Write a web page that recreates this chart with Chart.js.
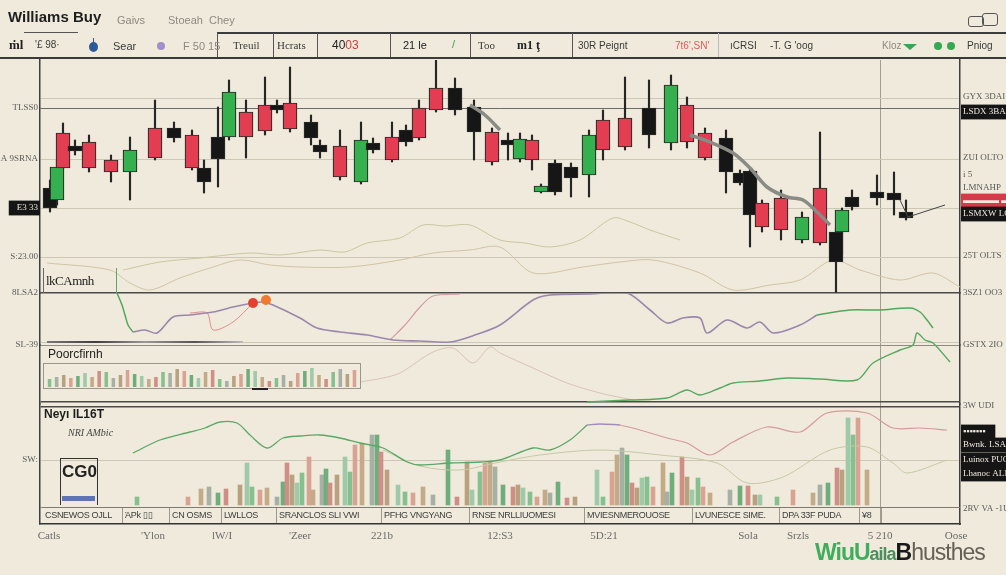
<!DOCTYPE html>
<html>
<head>
<meta charset="utf-8">
<script src="https://cdn.jsdelivr.net/npm/chart.js@4.4.1/dist/chart.umd.min.js"></script>
<style>
  body { margin: 0; width: 1006px; height: 575px; overflow: hidden; position: relative; background: #efeadb; font-family: "Liberation Sans", Arial, sans-serif; }
  #main { position: absolute; left: 0; top: 0; }
  .t { position: absolute; white-space: nowrap; color: #3a3a3a; font-size: 11px; }
  .g { color: #8d8980; }
  .ln { position: absolute; }
  .vs { position: absolute; top: 33px; width: 1px; height: 24px; background: #555; }
  #strip { position: absolute; left: 43px; top: 507px; width: 917px; height: 15px; border-top: 1px solid #7d7a70; display: flex; }
  #strip div { font: 9px "Liberation Sans"; color: #3c3c3c; line-height: 15px; padding-left: 2px; border-right: 1px solid #9b978b; overflow: hidden; letter-spacing: -0.3px; box-sizing: border-box; }
  #miniBox { position: absolute; left: 43px; top: 363px; width: 316px; height: 24px; border: 1px solid #9a968a; }
</style>
</head>
<body>
<canvas id="main" width="1006" height="575"></canvas>

<!-- header -->
<div class="t" style="left:8px;top:8px;font:bold 15px 'Liberation Sans';color:#1d1d1d;">Williams Buy</div>
<div class="ln" style="left:24px;top:32px;width:54px;height:1px;background:#555"></div>
<div class="t g" style="left:117px;top:14px">Gaivs</div>
<div class="t g" style="left:168px;top:14px">Stoeah&nbsp; Chey</div>
<div class="ln" style="left:217px;top:32px;width:789px;height:2px;background:#3c3c3c"></div>
<div class="ln" style="left:0;top:57px;width:1006px;height:2px;background:#3a3a3a"></div>
<div class="vs" style="left:217px"></div>
<div class="vs" style="left:273px"></div>
<div class="vs" style="left:317px"></div>
<div class="vs" style="left:390px"></div>
<div class="vs" style="left:470px"></div>
<div class="vs" style="left:572px"></div>
<div class="vs" style="left:718px;background:#bbb"></div>
<div class="t" style="left:9px;top:37px;font:bold 13px 'Liberation Serif';color:#222">ṁl</div>
<div class="t" style="left:35px;top:39px;font-size:10px">'£ 98·</div>
<div class="ln" style="left:89px;top:42px;width:9px;height:10px;border-radius:50%;background:#2d5b97"></div>
<div class="ln" style="left:93px;top:38px;width:1px;height:5px;background:#2d5b97"></div>
<div class="t" style="left:113px;top:40px">Sear</div>
<div class="ln" style="left:157px;top:42px;width:8px;height:8px;border-radius:50%;background:#9f8fcc"></div>
<div class="t g" style="left:183px;top:40px">F 50 15</div>
<div class="t" style="left:233px;top:39px;font-family:'Liberation Serif'">Treuil</div>
<div class="t" style="left:277px;top:39px;font-family:'Liberation Serif'">Hcrats</div>
<div class="t" style="left:332px;top:38px;font-size:12px;color:#222">40<span style="color:#d33a3a">03</span></div>
<div class="t" style="left:403px;top:39px;font-size:11px;color:#222">21 le</div>
<div class="t" style="left:452px;top:38px;color:#3aa655">/</div>
<div class="t" style="left:478px;top:39px;font-family:'Liberation Serif'">Too</div>
<div class="t" style="left:517px;top:38px;font:bold 12px 'Liberation Serif';color:#222">m1 ţ</div>
<div class="t" style="left:578px;top:40px;font-size:10px">30R Peignt</div>
<div class="t" style="left:675px;top:40px;font-size:10px;color:#e05a5a">7t6',SN'</div>
<div class="t" style="left:730px;top:40px;font-size:10px">ıCRSI</div>
<div class="t" style="left:770px;top:40px;font-size:10px">-T. G 'oog</div>
<div class="t g" style="left:882px;top:40px;font-size:10px">Kloz</div>
<div class="ln" style="left:903px;top:44px;width:0;height:0;border-left:7px solid transparent;border-right:7px solid transparent;border-top:6px solid #38a455"></div>
<div class="ln" style="left:934px;top:42px;width:8px;height:8px;border-radius:50%;background:#37a852"></div>
<div class="ln" style="left:947px;top:42px;width:8px;height:8px;border-radius:50%;background:#37a852"></div>
<div class="t" style="left:967px;top:40px;font-size:10px">Pniog</div>
<div class="ln" style="left:968px;top:16px;width:14px;height:9px;border:1px solid #555;border-radius:3px"></div>
<div class="ln" style="left:982px;top:13px;width:14px;height:11px;border:1px solid #555;border-radius:3px"></div>

<!-- panel captions -->
<div class="ln" style="left:43px;top:268px;width:72px;height:25px;border-left:1px solid #666;border-right:1px solid #5aa864"></div>
<div class="t" style="left:46px;top:273px;font:13px 'Liberation Serif';color:#222;letter-spacing:-0.5px">lkCAmnh</div>
<div class="ln" style="left:47px;top:341px;width:196px;height:2px;background:linear-gradient(to right,#777,#3f3f3f,#999,#555,#bbb)"></div>
<div class="t" style="left:48px;top:347px;font:12px 'Liberation Sans';color:#222">Poorcfirnh</div>
<div id="miniBox"><canvas id="mini" width="316" height="24"></canvas></div>
<div class="ln" style="left:252px;top:388px;width:16px;height:2px;background:#222"></div>
<div class="t" style="left:44px;top:407px;font:bold 12px 'Liberation Sans';color:#1d1d1d">Neyı IL16T</div>
<div class="t" style="left:68px;top:427px;font:italic 10px 'Liberation Serif';color:#444">NRI AMbic</div>
<div class="ln" style="left:60px;top:458px;width:36px;height:46px;border:1.5px solid #333;border-bottom:none"></div>
<div class="t" style="left:62px;top:462px;font:bold 17px 'Liberation Sans';color:#222">CG0</div>
<div class="ln" style="left:62px;top:496px;width:33px;height:5px;background:#5f74b5"></div>

<div id="strip">
  <div style="width:80px">CSNEWOS OJLL</div>
  <div style="width:47px">ΆPk ▯▯</div>
  <div style="width:52px">CN OSMS</div>
  <div style="width:55px">LWLLOS</div>
  <div style="width:105px">SRANCLOS SLI VWI</div>
  <div style="width:88px">PFHG VNGYANG</div>
  <div style="width:115px">RNSE NRLLIUOMESI</div>
  <div style="width:108px">MVIESNMEROUOSE</div>
  <div style="width:87px">LVUNESCE SIME.</div>
  <div style="width:80px">DPA 33F PUDA</div>
  <div style="width:22px">¥8</div>
  <div style="width:78px;border-right:none"></div>
</div>

<div class="t" style="left:815px;top:539px;font:bold 23px 'Liberation Sans';letter-spacing:-1px"><span style="color:#3fae5c">WiuU</span><span style="color:#4b8f5e;font-size:18px">aila</span><span style="color:#1a1a1a">B</span><span style="color:#665f55;font-weight:normal">husthes</span></div>

<script>
// ---- candles (price panel) ----
const candleX = [1.0,1.7,2.3,3.5,4.9,7.1,9.0,11.5,13.4,15.2,16.4,17.8,18.9,20.6,22.5,23.7,25.0,27.1,28.0,30.0,32.1,33.3,35.2,36.6,37.9,39.6,41.5,43.4,45.2,46.8,48.0,49.2,50.1,51.5,53.1,54.9,56.3,58.5,60.9,63.1,64.7,66.5,68.6,70.0,71.0,72.2,74.1,76.2,78.0,79.6,80.2,81.2,83.7,85.4,86.6];
const candleOpen = [105,93,160,147,151,133,121,165,165,158,125,156,156,181,188,188,190,171,148,147,111,150,156,163,185,205,205,186,161,153,134,153,101,130,126,118,173,175,185,150,188,160,155,120,122,90,95,53,105,61,61,96,101,100,81];
const candleClose = [85,126,125,142,125,121,143,135,155,125,111,134,201,156,162,183,164,155,141,116,153,143,133,151,155,183,183,161,131,148,154,133,107,101,115,158,143,146,158,208,151,135,121,110,78,66,63,76,50,31,83,86,95,93,75];
const candleHigh = [113,133,170,153,158,138,156,193,171,163,133,186,213,193,216,193,226,178,153,163,171,155,171,168,193,233,215,193,165,160,160,158,109,133,130,163,183,216,213,218,196,165,163,123,125,93,103,81,161,65,85,103,118,121,93];
const candleLow = [81,88,123,138,121,111,93,133,151,123,100,106,153,135,158,180,161,148,135,113,109,140,131,147,153,181,178,133,128,133,131,123,100,98,96,96,133,143,145,143,145,133,100,108,46,61,53,50,48,0,38,83,88,78,73];
const candleType = ['dark','bull','bear','dark','bear','bear','bull','bear','dark','bear','dark','dark','bull','bear','bear','dark','bear','dark','dark','bear','bull','dark','bear','dark','bear','bear','dark','dark','bear','dark','bull','bear','bull','dark','dark','bull','bear','bear','dark','bull','bear','bear','dark','dark','dark','bear','bear','bull','bear','dark','bull','dark','dark','dark','dark'];

// moving average and thin lines in price panel
const maX = [43,44.5,46,55,65,67,69.3,71,72.7,74.7,76.3,77.7,79];
const maY = [188,178,163,null,158,151,140,125,106,96,93,81,68];
const tailX = [86.0,86.8,90.5];
const tailY = [93,76,88];
const paleAX = [8.3,12,16,21,24,28,30.5,32.7,36,38.3,40.5,43,46,48.5,51,54,57.3,59,61,64];
const paleAY = [23,31,35,40,38,43,41,50,55,68,67,68,53,50,46,53,75,71,63,53];
const paleBX = [0.7,7,9,11,14,17,20,23,26,31,36,39.3,43,46,49.3,54.3,58,61.3,66,69.3,73,76,79.3,82,86,89.3,92];
const paleBY = [30,23,10,3,15,25,33,28,26,26,33,40,43,46,20,26,31,33,20,3,8,13,33,23,13,20,6];

// ---- oscillator panel 1 ----
const oscStartX = [7.7,8.2,8.5,8.8,9.3];
const oscStartY = [52,40,30,20,13];
const oscX = [9.3,10.5,11.7,13.3,15,17.3,19.3,21.3,22.3,23.3,26,27.7,30,32.7,35.3,38,41,43.5,46,49.3,51,55,58.7,61,62.7,64.3,66,66.7,68.7,70.7,72,73.3,76,77.7];
const oscY = [13,15,12,28,30,33,38,42,43,40,27,17,13,10,5,4,3,10,20,45,50,51,52,35,22,27,27,12,25,17,23,12,20,30];
const oscEndX = [77.7,81,84,87,88,88.7,89.3];
const oscEndY = [30,35,35,37,33,25,17];
const oscPinkX = [35,36.5,38,39.3,42];
const oscPinkY = [5,20,38,49,51];
const oscPink2X = [15,16.7,17.3,19.3,21.3];
const oscPink2Y = [32,32,15,23,42];
const signalX = [21.3,22.6];
const signalY = [42,45];

// ---- oscillator panel 2 ----
const osc2PaleX = [32,34.3,36,39.3,41.3,43.3,45,46,49.3,52.7,56,59.3];
const osc2PaleY = [22,26,31,52,56,41,57,51,36,21,11,4];
const osc2X = [54.7,59,62.7,64.7,66,68,69.3,72,74.7,78,81.7,83.3,86,87.3,87.7,88.5,89.3,91];
const osc2Y = [2,4,6,14,9,16,21,23,26,25,24,41,54,59,71,64,61,42];

// ---- volume panel ----
const volX = [9.7,14.8,16.1,16.9,17.8,18.6,20,20.7,21.2,22,22.7,23.7,24.3,24.7,25.2,25.7,26.2,26.9,27.3,28.2,28.6,29,29.7,30.5,31,31.5,32.2,33.2,33.7,34.1,34.7,35.8,36.5,37.3,38.3,39.3,40.8,41.7,42.7,43.2,44,44.5,45,45.5,46.3,47.3,47.8,48.3,49,49.7,50.5,51,51.8,52.7,53.5,55.7,56.3,57.2,57.7,58.2,58.7,59.2,59.7,60.2,60.7,61.3,62.3,62.7,63.2,64.2,64.7,65.2,65.8,66.3,67,69,70,70.8,71.5,72,73.7,75.3,77.3,78,78.8,79.7,80.2,80.8,81.3,81.8,82.7];
const volY = [8,8,16,18,12,16,20,42,18,15,17,8,23,42,30,22,32,48,15,30,36,22,30,48,33,60,62,70,70,53,35,20,13,12,18,10,55,8,43,15,33,42,43,38,20,18,20,17,13,8,15,12,23,7,8,35,8,33,50,57,50,22,17,27,28,18,42,13,32,48,28,15,27,18,12,15,19,19,10,10,8,15,12,20,22,37,35,87,70,87,35];
const volGreenX = [9.3,12,15,16.5,18,19.7,21,22.7,24.3,26,28,30,32,34.3,36.7,38,41,44,46,49.3,51,53,54.7];
const volGreenY = [52,65,73,77,83,82,70,57,67,69,70,67,62,57,43,40,42,43,45,57,55,65,80];
const volPurpleX = [54.7,56,58];
const volPurpleY = [80,81,80];
const volPinkX = [58,60,62.7,64.7,67,69.3,72.7,76,78.7,82.7,85.3,88,90.7];
const volPinkY = [80,75,67,62,50,63,78,73,92,92,77,77,75];
const volPaleX = [34.3,38,42,46,50,56,62,67.7,70.7,74.3,79,82.7,85.3,86.7,90.7];
const volPaleY = [55,39,35,43,50,55,50,42,22,28,55,58,42,32,45];

// mini histogram in the "Poorcfirnh" box
const miniY = [8,10,12,9,11,14,10,16,15,9,12,17,13,11,8,10,15,14,18,16,12,9,15,17,8,6,11,13,18,16,10,6,9,12,6,14,16,19,12,8,15,18,13,17];

// ---- axis labels ----
const xTickValues = [0.9,11.3,18.2,26,34.2,46,56.4,70.8,75.8,84,91.6];
const xTickLabels = ["Catls","'Ylon","lW/I","'Zeer","221b","12:S3","5D:21","Sola","Srzls","5 210","Oose"];

const priceTicks = [195,185,134,85,36,0];
const priceLabels = ['','TLSS0','A 9SRNA','E3 33','S:23.00','8LSA2'];
const osc1Ticks = [3,0];
const osc1Labels = ['','SL-39'];
const osc2Ticks = [2];
const osc2Labels = [''];
const volTicks = [98,45,-2];
const volLabels = ['','SW:',''];

const rPriceTicks = [196,181,135,118,105,92,79,37];
const rPriceLabels = ['GYX 3DAI','LSDX 3BAI','ZUI OLTO','i 5','LMNAHP','▬▬▬▬ ▬▬','LSMXW LOK','25T OLTS'];
const rOsc1Ticks = [52,0];
const rOsc1Labels = ['3SZ1 OO3','GSTX 2IO'];
const rVolTicks = [99,73,60,45,31,-4];
const rVolLabels = ['3W UDI','▪▪▪▪▪▪▪','Bwnk. LSA','Luinox PUG','Lhanoc ALN','2RV VA -1U'];

// ---- styles ----
const LIGHT = '#cdc8b6', MID = '#8f8b80', DARK = '#4a4a4a';
const bodyColor = { bull: '#35b04f', bear: '#e23d50', dark: '#161616' };
const volPalette = ['#86c08f','#d9a394','#c2ab86','#a7b0a4','#6fae7c','#cf8f86','#b9a07e','#9fc9a8'];
const labelFont = { family: 'Liberation Serif', size: 9 };

const xy = (xs, ys) => xs.map((x, i) => ({ x, y: ys[i] }));

function leftAxis(min, max, weight, ticks, labels, gridColors, boxed) {
  return {
    type: 'linear', position: 'left', stack: 'L', stackWeight: weight, min, max,
    afterBuildTicks: s => { s.ticks = ticks.map(v => ({ value: v })); },
    afterFit: s => { s.width = 40; },
    border: { color: '#3d3d3d', width: 1.5 },
    grid: { drawTicks: false, color: c => gridColors[c.index], lineWidth: c => gridColors[c.index] === DARK ? 1.5 : 1 },
    ticks: {
      autoSkip: false, padding: 2, font: labelFont,
      callback: (v, i) => labels[i],
      color: c => boxed.includes(c.index) ? '#e8e4d8' : '#5a5a5a',
      showLabelBackdrop: c => boxed.includes(c.index),
      backdropColor: '#151515', backdropPadding: { left: 8, right: 2, top: 2, bottom: 2 }
    }
  };
}

function rightAxis(min, max, weight, ticks, labels, boxed, redBox) {
  return {
    type: 'linear', position: 'right', stack: 'R', stackWeight: weight, min, max,
    afterBuildTicks: s => { s.ticks = ticks.map(v => ({ value: v })); },
    afterFit: s => { s.width = 46; },
    border: { color: '#3d3d3d', width: 1.5 },
    grid: { drawOnChartArea: false, drawTicks: false },
    ticks: {
      autoSkip: false, padding: 3, font: labelFont,
      callback: (v, i) => labels[i],
      color: c => boxed.includes(c.index) || redBox.includes(c.index) ? '#efe9e0' : '#5a5a5a',
      showLabelBackdrop: c => boxed.includes(c.index) || redBox.includes(c.index),
      backdropColor: c => redBox.includes(c.index) ? '#d63a48' : '#151515',
      backdropPadding: { left: 2, right: 10, top: 2, bottom: 2 }
    }
  };
}

function line(xs, ys, color, width, axis, order, extra) {
  return Object.assign({
    type: 'line', data: xy(xs, ys), borderColor: color, borderWidth: width,
    pointRadius: 0, tension: 0.3, yAxisID: axis, order, spanGaps: false
  }, extra || {});
}

const datasets = [
  { type: 'bar', data: candleX.map((x, i) => ({ x, y: [candleLow[i], candleHigh[i]] })),
    backgroundColor: '#262626', barThickness: 1.5, grouped: false, yAxisID: 'yP', order: 10 },
  { type: 'bar', data: candleX.map((x, i) => ({ x, y: [candleOpen[i], candleClose[i]] })),
    backgroundColor: c => bodyColor[candleType[c.dataIndex]], borderColor: '#2a2a2a', borderWidth: 1.2,
    borderSkipped: false, barThickness: 14, grouped: false, yAxisID: 'yP', order: 5 },
  line(maX, maY, '#8b8b86', 3.5, 'yP', 1),
  line(tailX, tailY, '#444', 1, 'yP', 1, { tension: 0 }),
  line(paleAX, paleAY, '#c9c79e', 1, 'yP', 20),
  line(paleBX, paleBY, '#d2c3a4', 1, 'yP', 20),

  line(oscStartX, oscStartY, '#4fa85b', 1.5, 'yM1', 2, { clip: false }),
  line(oscX, oscY, '#9b87ad', 1.6, 'yM1', 2),
  line(oscEndX, oscEndY, '#4fa85b', 1.5, 'yM1', 2),
  line(oscPinkX, oscPinkY, '#d69aa4', 1.2, 'yM1', 3),
  line(oscPink2X, oscPink2Y, '#e08c8c', 1, 'yM1', 3),
  { type: 'line', data: xy(signalX, signalY), showLine: false, pointRadius: 5,
    pointBackgroundColor: ['#e5402f', '#f07a2e'], pointBorderWidth: 0, yAxisID: 'yM1', order: 1 },

  line(osc2PaleX, osc2PaleY, '#d8c3b8', 1, 'yM2', 4),
  line(osc2X, osc2Y, '#56a85f', 1.4, 'yM2', 2, { clip: false }),

  { type: 'bar', data: xy(volX, volY), backgroundColor: c => volPalette[c.dataIndex % volPalette.length],
    barThickness: 4, grouped: false, yAxisID: 'yV', order: 8 },
  line(volGreenX, volGreenY, '#5aa867', 1.3, 'yV', 2),
  line(volPurpleX, volPurpleY, '#a58bb8', 1.5, 'yV', 2),
  line(volPinkX, volPinkY, '#d79a9c', 1.2, 'yV', 2),
  line(volPaleX, volPaleY, '#c4c9a6', 1, 'yV', 3)
];

new Chart(document.getElementById('main'), {
  type: 'bar',
  data: { datasets },
  options: {
    responsive: false, animation: false,
    layout: { padding: { top: 60, bottom: 21, left: 0, right: 0 } },
    plugins: { legend: { display: false }, tooltip: { enabled: false } },
    scales: {
      x: {
        type: 'linear', min: 0, max: 92, offset: false,
        afterBuildTicks: s => { s.ticks = xTickValues.map(v => ({ value: v })); },
        afterFit: s => { s.height = 30; },
        border: { color: '#333', width: 1.5 },
        grid: { offset: false, drawTicks: false, color: c => c.index === 9 ? '#a29e92' : 'rgba(0,0,0,0)' },
        ticks: { autoSkip: false, maxRotation: 0, padding: 6, color: '#6a6a6a',
                 font: { family: 'Liberation Serif', size: 11 }, callback: (v, i) => xTickLabels[i] }
      },
      yV: leftAxis(-19, 101, 120, volTicks, volLabels, [DARK, LIGHT, MID], []),
      yM2: leftAxis(0, 59, 59, osc2Ticks, osc2Labels, [DARK], []),
      yM1: leftAxis(0, 52, 52, osc1Ticks, osc1Labels, [LIGHT, MID], []),
      yP: leftAxis(0, 233, 233, priceTicks, priceLabels, [LIGHT, '#6b6b6b', LIGHT, LIGHT, LIGHT, DARK], [3]),
      rP: rightAxis(0, 233, 233, rPriceTicks, rPriceLabels, [1, 6], [5]),
      rM1: rightAxis(0, 52, 52, rOsc1Ticks, rOsc1Labels, [], []),
      rM2: rightAxis(0, 59, 59, [], [], [], []),
      rV: rightAxis(-19, 101, 120, rVolTicks, rVolLabels, [1, 2, 3, 4], [])
    }
  }
});

// mini histogram inside the caption box
new Chart(document.getElementById('mini'), {
  type: 'bar',
  data: {
    labels: miniY.map((v, i) => i),
    datasets: [{ data: miniY, backgroundColor: c => volPalette[(c.dataIndex * 3) % volPalette.length],
                 barPercentage: 0.5, categoryPercentage: 1 }]
  },
  options: {
    responsive: false, animation: false,
    layout: { padding: { top: 1, bottom: 1, left: 2, right: 2 } },
    plugins: { legend: { display: false }, tooltip: { enabled: false } },
    scales: { x: { display: false }, y: { display: false, min: 0, max: 22 } }
  }
});
</script>
</body>
</html>
